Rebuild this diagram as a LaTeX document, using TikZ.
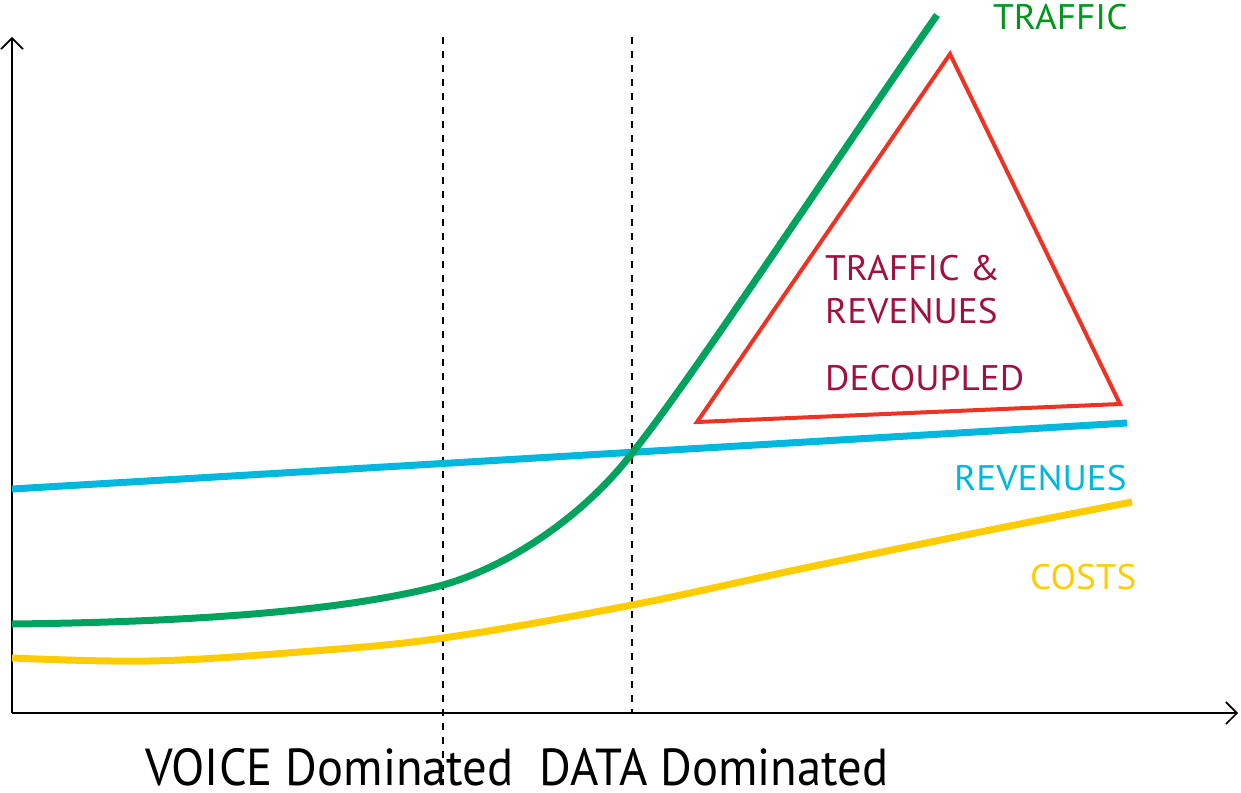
\documentclass[tikz,border=0pt]{standalone}
\usepackage{fontspec}
\setmainfont{PT Sans}
\newfontfamily\widefont[FakeStretch=1.05]{PT Sans}
\newfontfamily\narrowfont[FakeStretch=0.935]{PT Sans}
\usetikzlibrary{arrows.meta}
\definecolor{trafgreen}{RGB}{0,163,94}
\definecolor{trafttext}{RGB}{0,150,30}
\definecolor{revblue}{RGB}{0,183,222}
\definecolor{costyellow}{RGB}{255,204,0}
\definecolor{warnred}{RGB}{238,51,36}
\definecolor{maroon}{RGB}{160,16,64}
\tikzset{
  axis/.style={line width=1.6pt,-{Straight Barb[length=11pt,width=22pt,line width=1.6pt]}},
  divider/.style={line width=1.4pt,dash pattern=on 7pt off 7pt},
  curve/.style={line width=7pt,line cap=butt},
  lbl/.style={inner sep=0pt,anchor=base west,font=\widefont\fontsize{35.5}{38}\selectfont},
}
\begin{document}
\begin{tikzpicture}[x=1pt,y=-1pt]
\useasboundingbox (0,0) rectangle (1241,792);
% axes
\coordinate (o) at (12,713);
\coordinate (ytop) at (12,37);
\coordinate (xend) at (1238,713);
\draw[axis] (o) -- (ytop);
\draw[axis] (o) -- (xend);
% dividers
\coordinate (d1t) at (443,37);
\coordinate (d1b) at (443,785);
\coordinate (d2t) at (632,37);
\coordinate (d2b) at (632,713);
\draw[divider] (d1t) -- (d1b);
\draw[divider] (d2t) -- (d2b);
% revenues
\coordinate (r1) at (12,489);
\coordinate (r2) at (1127,423);
\draw[curve,revblue] (r1) -- (r2);
% costs
\draw[curve,costyellow] plot[smooth,tension=0.6] coordinates {(12,658) (150,661) (300,652) (443,638) (632,605) (800,569) (1000,528) (1132,502)};
% traffic
\draw[curve,trafgreen] (12,624) .. controls (200,622) and (350,610) .. (443,585)
  .. controls (510,566) and (585,515) .. (633,452)
  .. controls (693,377) and (837,158) .. (937,15);
% triangle
\coordinate (t1) at (697,422);
\coordinate (t2) at (950,54);
\coordinate (t3) at (1120,404);
\draw[warnred,line width=4pt,line join=miter] (t1) -- (t2) -- (t3) -- cycle;
% labels
\node[lbl,text=trafttext] (ltraffic) at (993,30) {TRAFFIC};
\node[lbl,text=maroon] (ldec1) at (825,280) {TRAFFIC \&};
\node[lbl,text=maroon] (ldec2) at (825,323) {REVENUES};
\node[lbl,text=maroon] (ldec3) at (825,390) {DECOUPLED};
\node[lbl,text=revblue] (lrev) at (954,490) {REVENUES};
\node[lbl,text=costyellow] (lcost) at (1030,589) {COSTS};
\node[inner sep=0pt,anchor=base west,font=\narrowfont\fontsize{52}{54}\selectfont] (lbottom) at (145,785) {VOICE Dominated\ \ DATA Dominated};
\end{tikzpicture}
\end{document}
